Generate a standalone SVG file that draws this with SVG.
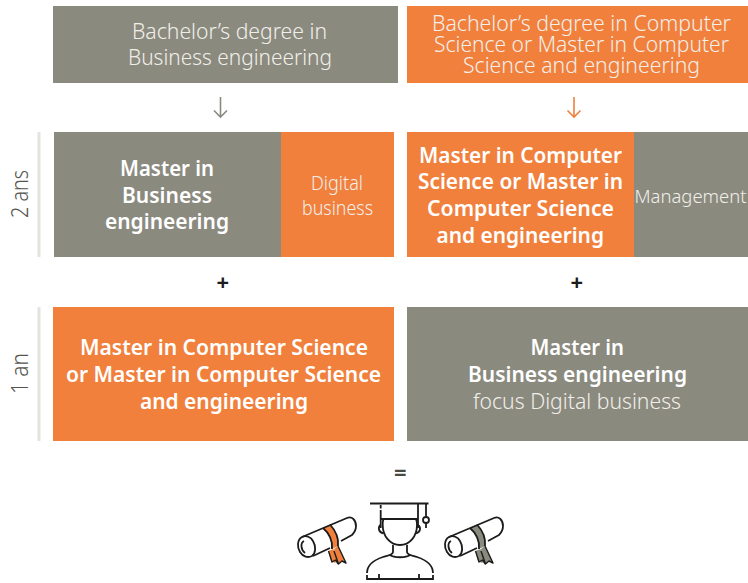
<svg xmlns="http://www.w3.org/2000/svg" width="748" height="583" viewBox="0 0 748 583">
<style>
text{font-family:"Noto Sans","Open Sans","Liberation Sans",sans-serif;text-anchor:start}
.l{font-weight:300;fill:#f1efe9;font-size:22px}
.m{font-size:20px}
.b{font-weight:600;fill:#fff;font-size:22px}
.g{fill:#8b8a7f}.o{fill:#f1803d}
.y{font-weight:300;fill:#55554f;font-size:23px}
.bar{fill:#e3e3df}
.ic{fill:none;stroke:#1c1c1c;stroke-width:1.8;stroke-linecap:butt;stroke-linejoin:round}
.ar{fill:none;stroke-width:1.6}
.s{font-size:22px;font-weight:700;fill:#1c1c1c}
</style>
<defs>
<g id="diploma">
<path fill="currentColor" d="M323 528L330 524.500C335 530 339 538 338 546L332 549C333 541 329 533 323 528Z"/>
<path fill="currentColor" d="M328.500 551L333.500 549L338 560L335 563L331 561ZM334 549L338 546L346 563L342 561L338.500 564Z"/>
<g class="ic">
<path d="M302 537L347 518C352 516 356 520 356 526C356 530 354 533 352 535L341 541M330 548L313 556"/>
<path d="M302 537C297 540 297 547 300 552C303 557 308 558 312 556C316 553 316 546 313 541C311 537 306 535 302 537Z"/>
<path d="M304 541C300 543 301 550 305 553"/>
<path d="M323 528C329 533 333 541 332 549M330 524.500C335 530 339 538 338 546"/>
<path d="M328.500 551L332 562L335.500 560L338 564M338 546L346 563L342 561L338.500 564L334 551" style="stroke-width:1.400"/>
</g></g>
</defs>
<g id="bars"><rect class="bar" x="37.500" y="132" width="3" height="125"/><rect class="bar" x="37.500" y="307" width="3" height="134"/></g>
<g id="label-2ans"><text class="y" transform="translate(28,218) rotate(-90)" textLength="48" lengthAdjust="spacingAndGlyphs">2 ans</text></g>
<g id="label-1an"><text class="y" transform="translate(28,394) rotate(-90)" textLength="41" lengthAdjust="spacingAndGlyphs">1 an</text></g>
<g id="bachelor-be"><rect class="g" x="53" y="6" width="345" height="77"/>
<text class="l" x="132" y="39" textLength="195" lengthAdjust="spacingAndGlyphs">Bachelor’s degree in</text>
<text class="l" x="128" y="65" textLength="204" lengthAdjust="spacingAndGlyphs">Business engineering</text></g>
<g id="bachelor-cs"><rect class="o" x="407" y="6" width="341" height="77"/>
<text class="l" x="432" y="31" textLength="299" lengthAdjust="spacingAndGlyphs">Bachelor’s degree in Computer</text>
<text class="l" x="434" y="52" textLength="295" lengthAdjust="spacingAndGlyphs">Science or Master in Computer</text>
<text class="l" x="463" y="73" textLength="237" lengthAdjust="spacingAndGlyphs">Science and engineering</text></g>
<g id="master-be"><rect class="g" x="54" y="132" width="227" height="125"/>
<text class="b" x="120" y="176" textLength="94" lengthAdjust="spacingAndGlyphs">Master in</text>
<text class="b" x="122" y="203" textLength="90" lengthAdjust="spacingAndGlyphs">Business</text>
<text class="b" x="105" y="229" textLength="124" lengthAdjust="spacingAndGlyphs">engineering</text></g>
<g id="digital-business"><rect class="o" x="281" y="132" width="113" height="125"/>
<text class="l m" x="311" y="190" textLength="52" lengthAdjust="spacingAndGlyphs">Digital</text>
<text class="l m" x="302" y="215" textLength="71" lengthAdjust="spacingAndGlyphs">business</text></g>
<g id="master-cs"><rect class="o" x="407" y="132" width="227" height="125"/>
<text class="b" x="419" y="163" textLength="203" lengthAdjust="spacingAndGlyphs">Master in Computer</text>
<text class="b" x="418" y="189" textLength="205" lengthAdjust="spacingAndGlyphs">Science or Master in</text>
<text class="b" x="427" y="216" textLength="187" lengthAdjust="spacingAndGlyphs">Computer Science</text>
<text class="b" x="436.500" y="243" textLength="167.500" lengthAdjust="spacingAndGlyphs">and engineering</text></g>
<g id="management"><rect class="g" x="634" y="132" width="114" height="125"/>
<text class="l" x="634.500" y="203" style="font-size:19px" textLength="112" lengthAdjust="spacingAndGlyphs">Management</text></g>
<g id="master-cs-1an"><rect class="o" x="53" y="307" width="341" height="134"/>
<text class="b" x="80" y="355" textLength="288" lengthAdjust="spacingAndGlyphs">Master in Computer Science</text>
<text class="b" x="66" y="382" textLength="315" lengthAdjust="spacingAndGlyphs">or Master in Computer Science</text>
<text class="b" x="140" y="409" textLength="168" lengthAdjust="spacingAndGlyphs">and engineering</text></g>
<g id="master-be-1an"><rect class="g" x="407" y="307" width="341" height="134"/>
<text class="b" x="530.500" y="355" textLength="93.500" lengthAdjust="spacingAndGlyphs">Master in</text>
<text class="b" x="468" y="382" textLength="219" lengthAdjust="spacingAndGlyphs">Business engineering</text>
<text class="l" x="473" y="409" textLength="208" lengthAdjust="spacingAndGlyphs">focus Digital business</text></g>
<g id="connectors">
<path class="ar" stroke="#8b8a7f" d="M220.500 97V116.500M214 110.500L220.500 117L227 110.500"/>
<path class="ar" stroke="#f1803d" d="M574 97V116.500M567.500 110.500L574 117L580.500 110.500"/>
</g>
<g id="plus-1"><text class="s" x="216.500" y="290">+</text></g>
<g id="plus-2"><text class="s" x="570.500" y="290">+</text></g>
<g id="equals"><text class="s" x="394" y="480" style="fill:#4a4a45">=</text></g>
<g id="icon-graduate" class="ic">
<path d="M370 503.500H428.500"/>
<path d="M380.700 505V508.500M380.700 510V528M418 504V528M381 519H418"/>
<path d="M382.700 525C382.700 536 390 545 400 545C410 545 417 536 417 525C417 522 416.500 520 416 519M382.700 525C382.700 522 383 520 383.500 519"/>
<path d="M380.500 525C378 527 378 532 383.500 533.500M418 525C421 527 421 532 416 533.500"/>
<path d="M393 545V552C393 555 388 555.500 383 557C374 560 367 565 367 573M407 545V552C407 555 412 555.500 417 557C426 560 433 565 433 573"/>
<path d="M390 555C394 558 406 558 410 555"/>
<path d="M367 575V580M367 579H433M433 575V580M379 574V579M419 574V579"/>
<path d="M426 504V517"/><circle cx="426" cy="520" r="3"/><path d="M426 523V528"/>
</g>
<g id="icon-diploma-orange" style="color:#f1803d"><use href="#diploma"/></g>
<g id="icon-diploma-gray" style="color:#8b8a7f"><use href="#diploma" x="147"/></g>
</svg>
